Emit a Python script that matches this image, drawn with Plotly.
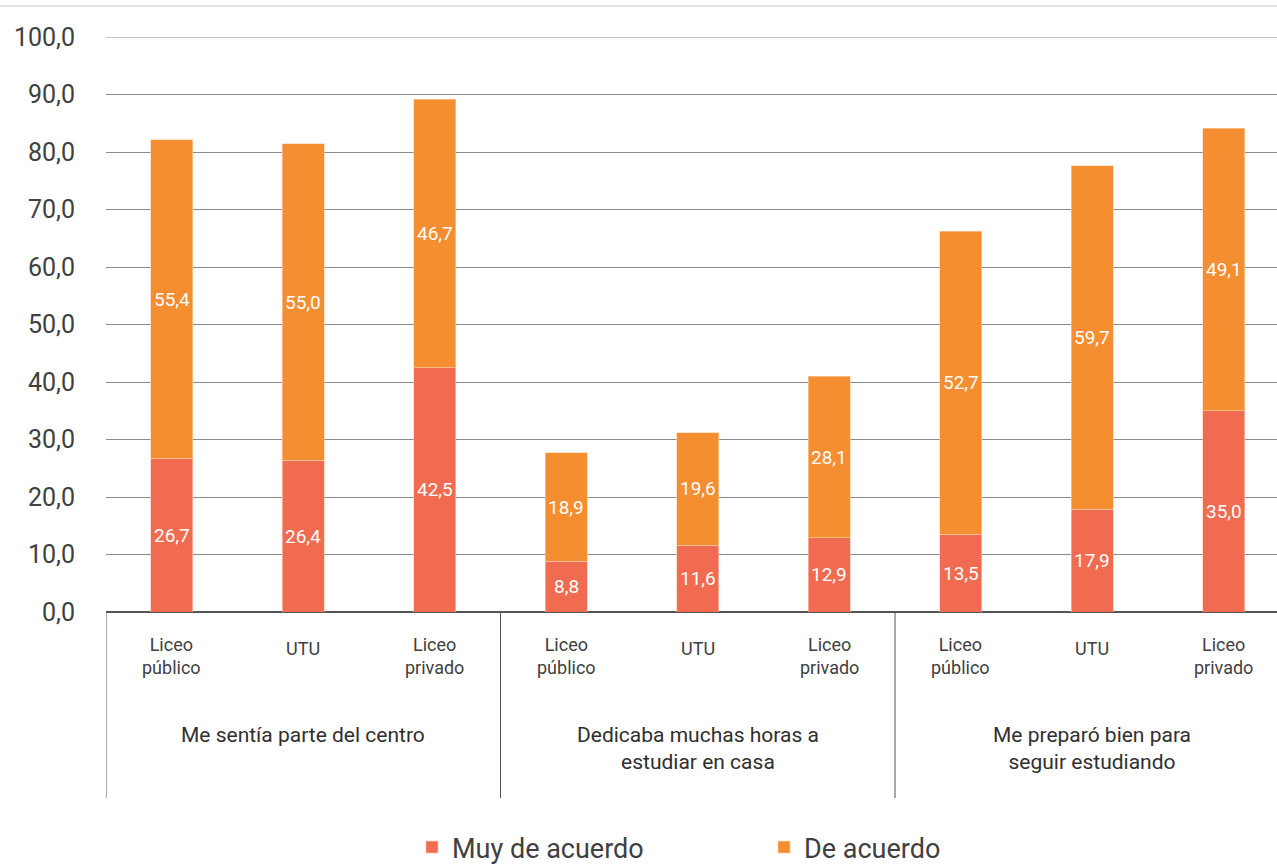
import plotly.graph_objects as go

groups = ["Me sentía parte del centro",
          "Dedicaba muchas horas a<br>estudiar en casa",
          "Me preparó bien para<br>seguir estudiando"]
schools = ["Liceo<br>público", "UTU", "Liceo<br>privado"]
muy_de_acuerdo = [26.7, 26.4, 42.5, 8.8, 11.6, 12.9, 13.5, 17.9, 35.0]
de_acuerdo = [55.4, 55.0, 46.7, 18.9, 19.6, 28.1, 52.7, 59.7, 49.1]
y_ticks = [0, 10, 20, 30, 40, 50, 60, 70, 80, 90, 100]

RED = "#F06B50"
ORANGE = "#F48E30"
TXT = "#404040"
FONT = "Roboto"

W, H = 1277, 864
ML, MT, MB = 106, 37, 252
PH = H - MT - MB  # plot height in px


def py(pix):
    return (H - MB - pix) / PH


xs = list(range(len(muy_de_acuerdo)))

fig = go.Figure()
fig.add_trace(go.Bar(x=xs, y=muy_de_acuerdo, name="Muy de acuerdo",
                     marker=dict(color=RED, line=dict(color="rgba(255,200,190,0.6)", width=1)),
                     width=0.32))
fig.add_trace(go.Bar(x=xs, y=de_acuerdo, name="De acuerdo",
                     marker=dict(color=ORANGE, line=dict(color="rgba(255,210,170,0.6)", width=1)),
                     width=0.32))

ann = []
for i, (a, b) in enumerate(zip(muy_de_acuerdo, de_acuerdo)):
    ann.append(dict(x=i, y=a / 2, xref="x", yref="y", text=f"{a:.1f}".replace(".", ","),
                    showarrow=False, font=dict(family=FONT, size=19, color="white")))
    ann.append(dict(x=i, y=a + b / 2, xref="x", yref="y", text=f"{b:.1f}".replace(".", ","),
                    showarrow=False, font=dict(family=FONT, size=19, color="white")))

for g in range(len(groups)):
    for s, lab in enumerate(schools):
        i = g * 3 + s
        two = "<br>" in lab
        ann.append(dict(x=i, y=py(656 if two else 648), xref="x", yref="paper", text=lab,
                        showarrow=False, yanchor="middle",
                        font=dict(family=FONT, size=18, color=TXT)))
    two = "<br>" in groups[g]
    ann.append(dict(x=g * 3 + 1, y=py(748 if two else 735), xref="x", yref="paper", text=groups[g],
                    showarrow=False, yanchor="middle",
                    font=dict(family=FONT, size=21, color="#2f2f2f")))

shapes = []
for g in range(len(groups)):
    xb = g * 3 - 0.5
    shapes.append(dict(type="line", xref="x", yref="paper", x0=xb, x1=xb, y0=0, y1=py(798),
                       line=dict(color="#555", width=1)))
shapes.append(dict(type="line", xref="paper", yref="paper", x0=-ML / (W - ML), x1=1, y0=py(6), y1=py(6),
                   line=dict(color="#e2e2e2", width=2)))
shapes.append(dict(type="line", xref="paper", yref="y", x0=0, x1=1, y0=y_ticks[-1], y1=y_ticks[-1],
                   layer="below", line=dict(color="#8a8a8a", width=1)))

unit = 131.5
rng_end = -0.5 + (W - ML) / unit

fig.update_layout(
    width=W, height=H,
    margin=dict(l=ML, r=0, t=MT, b=MB, autoexpand=False),
    barmode="stack",
    separators=",.",
    plot_bgcolor="white", paper_bgcolor="white",
    font=dict(family=FONT, color=TXT),
    xaxis=dict(range=[-0.5, rng_end], showticklabels=False, showgrid=False, zeroline=False,
               showline=False, ticks=""),
    yaxis=dict(range=[0, 100], tickvals=y_ticks, tickformat=".1f", showgrid=True,
               gridcolor="#8a8a8a", gridwidth=1, zeroline=True, zerolinecolor="#555",
               zerolinewidth=1.5, showline=False, ticks="", ticklabelstandoff=30,
               tickfont=dict(family=FONT, size=25, color=TXT)),
    showlegend=True,
    legend=dict(orientation="h", x=(412 - ML) / (W - ML), xanchor="left", y=py(823), yanchor="top",
                font=dict(family=FONT, size=27, color=TXT), entrywidth=307, itemwidth=30,
                traceorder="normal"),
    annotations=ann,
    shapes=shapes,
)

fig.write_html("out.html")
